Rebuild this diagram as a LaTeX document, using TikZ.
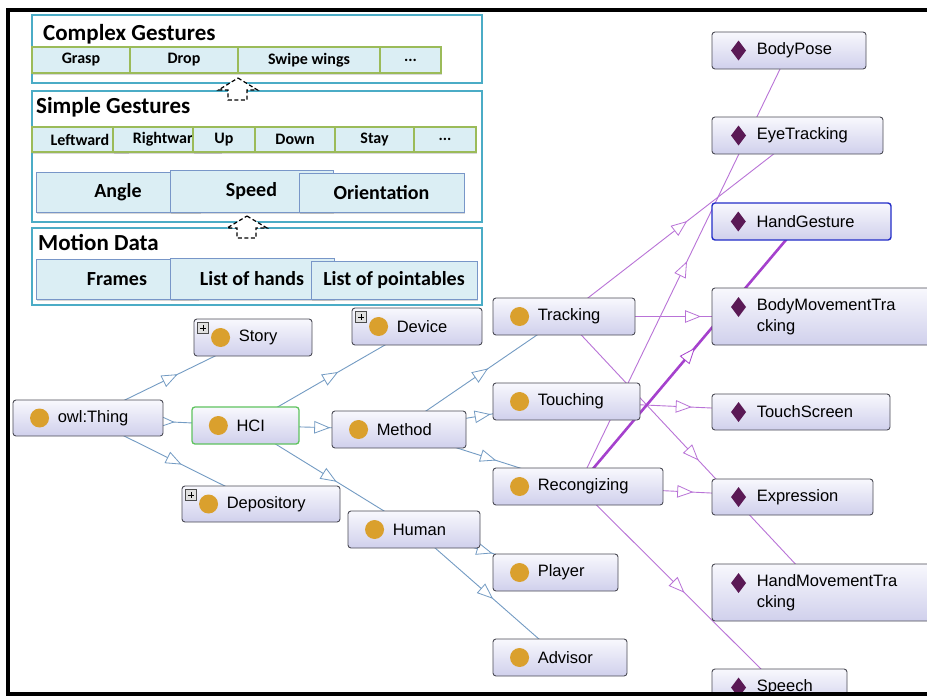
\documentclass[tikz,border=0pt]{standalone}
\usepackage{fontspec}
\setmainfont{Liberation Sans}
\newfontfamily\legendfont{Carlito}
\usetikzlibrary{arrows.meta,decorations.markings,fit,shadows}
\pgfdeclarelayer{paper}
\pgfdeclarelayer{edges}
\pgfsetlayers{paper,edges,main}

\definecolor{panelc}{RGB}{75,172,198}
\definecolor{greenc}{RGB}{155,187,89}
\definecolor{cellc}{RGB}{219,238,244}
\definecolor{cellb}{RGB}{120,150,200}
\definecolor{isac}{RGB}{115,155,195}
\definecolor{relc}{RGB}{185,115,215}
\definecolor{hotc}{RGB}{165,65,205}
\definecolor{dotc}{RGB}{218,160,45}
\definecolor{diamc}{RGB}{90,25,85}
\definecolor{boxtop}{RGB}{248,248,253}
\definecolor{boxbot}{RGB}{208,208,236}
\definecolor{boxline}{RGB}{75,75,85}
\definecolor{hcic}{RGB}{95,195,95}
\definecolor{selc}{RGB}{35,45,200}

\tikzset{
  panel/.style={draw=panelc, line width=2.8pt, fill=white},
  gcell/.style={draw=greenc, line width=1.3pt, fill=cellc, inner sep=0pt,
    drop shadow={shadow xshift=1pt, shadow yshift=-1.5pt, opacity=.3},
    font=\legendfont\bfseries\fontsize{16}{19}\selectfont},
  bcell/.style={draw=cellb, line width=1pt, fill=cellc, inner sep=0pt,
    drop shadow={shadow xshift=1pt, shadow yshift=-1.5pt, opacity=.3},
    font=\legendfont\bfseries\fontsize{20}{24}\selectfont},
  ptitle/.style={anchor=base west, inner sep=0pt,
    font=\legendfont\bfseries\fontsize{23}{27}\selectfont},
  uparrow/.style={draw=black, dash pattern=on 4pt off 2.5pt, line width=1.2pt, fill=white},
  frameline/.style={line width=3.5pt, line join=miter},
  ogbox/.style={draw=boxline, line width=0.9pt, rounded corners=3pt,
    top color=boxtop, bottom color=boxbot, inner sep=0pt},
  ogtext/.style={anchor=west, inner sep=0pt, align=left,
    font=\fontsize{16.5}{21}\selectfont},
  plusbox/.style={draw=black!70, fill=black!12, line width=0.6pt},
  midarrow/.style={postaction={decorate, decoration={markings,
    mark=at position 0.5 with {\pgftransformxshift{8pt}%
      \arrow{Triangle[length=16pt,width=12.5pt,fill=white,line width=0.8pt]}}}}},
  isa/.style={draw=isac, line width=0.9pt, midarrow},
  rel/.style={draw=relc, line width=0.9pt, midarrow},
  hotrel/.style={draw=hotc, line width=2.6pt, midarrow},
}

% labelled cell of the gesture model, given by its corners
\newcommand\gcellbox[7][gcell]{%
  \node[#1, minimum width={(#5-#3)*1pt}, minimum height={(#6-#4)*1pt}]
    (#2) at ({(#3+#5)/2},{(#4+#6)/2}) {#7};}
% class box: dot icon and label
\newcommand\ogclass[4][]{%
  \node[ogbox,#1,fit={#3}] (#2) {};
  \fill[dotc] ([xshift=27pt]#2.west) circle (9.5pt);
  \node[ogtext] (#2-t) at ([xshift=45pt]#2.west) {#4};}
% individual box: diamond icon (raised by #4 pt) and label
\newcommand\ogindiv[5][]{%
  \node[ogbox,#1,fit={#3}] (#2) {};
  \fill[diamc] ([xshift=27pt,yshift=#4pt+10pt]#2.west) -- ++(7.5pt,-10pt)
    -- ++(-7.5pt,-10pt) -- ++(-7.5pt,10pt) -- cycle;
  \node[ogtext] (#2-t) at ([xshift=45pt]#2.west) {#5};}
% small expand marker in the upper left corner
\newcommand\plusmark[1]{%
  \draw[plusbox] ([xshift=4pt,yshift=-4pt]#1.north west) rectangle ++(11,11);
  \draw[line width=1.1pt] ([xshift=6.5pt,yshift=-9.5pt]#1.north west) -- ++(6,0)
    ([xshift=9.5pt,yshift=-6.5pt]#1.north west) -- ++(0,6);}

\begin{document}
\begin{tikzpicture}[x=1pt,y=-1pt]
\begin{pgfonlayer}{paper}
\fill[white] (0,0) rectangle (927,697);
\end{pgfonlayer}
\useasboundingbox (0,0) rectangle (927,697);

\begin{scope}
\clip (8,10) rectangle (935,693);

% ---- layered gesture model ----
\draw[panel] (32,15) rectangle (482,83);
\draw[panel] (32,91) rectangle (482,222);
\draw[panel] (32,228) rectangle (482,305);

\node[ptitle] (cg) at (43,40) {Complex Gestures};
\gcellbox{grasp}{32}{47}{130}{73}{Grasp}
\gcellbox{drop}{130}{47}{238}{73}{Drop}
\gcellbox{swipe}{238}{47}{380}{73}{Swipe wings}
\gcellbox{cmore}{380}{47}{441}{73}{...}

\node[ptitle] (sg) at (36,113) {Simple Gestures};
\gcellbox{leftw}{32}{127}{128}{152}{Leftward}
\gcellbox{rightw}{113}{127}{221}{152}{Rightward}
\gcellbox{up}{193}{127}{255}{152}{Up}
\gcellbox{down}{255}{127}{335}{152}{Down}
\gcellbox{stay}{335}{127}{414}{152}{Stay}
\gcellbox{smore}{414}{127}{476}{152}{...}
\gcellbox[bcell]{angle}{36}{172}{200}{212}{Angle}
\gcellbox[bcell]{speed}{170}{170}{333}{212}{Speed}
\gcellbox[bcell]{orient}{299}{173}{464}{212}{Orientation}

\node[ptitle] (md) at (38,250) {Motion Data};
\gcellbox[bcell]{frames}{36}{259}{198}{299}{Frames}
\gcellbox[bcell]{hands}{170}{258}{334}{299}{List of hands}
\gcellbox[bcell]{points}{311}{261}{477}{299}{List of pointables}

\draw[uparrow] (238,78) -- (257.5,90) -- (247,90) -- (247,100) -- (228,100)
  -- (228,90) -- (218.5,90) -- cycle;
\draw[uparrow] (247,216) -- (267,228) -- (256,228) -- (256,238) -- (237,238)
  -- (237,228) -- (227,228) -- cycle;

% ---- ontology graph ----
\ogclass{thing}{(13,400) (163,436)}{owl:Thing}
\ogclass{story}{(194,319) (312,356)}{Story}
\ogclass{device}{(352,308) (482,345)}{Device}
\ogclass[draw=hcic, line width=1.3pt]{hci}{(192,407) (299,444)}{HCI}
\ogclass{depository}{(182,486) (340,522)}{Depository}
\ogclass{method}{(332,411) (466,448)}{Method}
\ogclass{human}{(348,511) (480,548)}{Human}
\ogclass{tracking}{(493,298) (635,335)}{Tracking}
\ogclass{touching}{(493,383) (640,420)}{Touching}
\ogclass{recongizing}{(493,468) (663,505)}{Recongizing}
\ogclass{player}{(493,554) (618,591)}{Player}
\ogclass{advisor}{(493,639) (627,676)}{Advisor}
\plusmark{story}
\plusmark{device}
\plusmark{depository}

\ogindiv{bodypose}{(712,32) (866,69)}{0}{BodyPose}
\ogindiv{eyetracking}{(712,117) (883,154)}{0}{EyeTracking}
\ogindiv[draw=selc, line width=1.4pt]{handgesture}{(712,203) (891,240)}{0}{HandGesture}
\ogindiv{bmt}{(712,288) (932,345)}{9.5}{BodyMovementTra\\cking}
\ogindiv{touchscreen}{(712,394) (890,430)}{0}{TouchScreen}
\ogindiv{expression}{(712,479) (873,515)}{0}{Expression}
\ogindiv{hmt}{(712,564) (932,621)}{9.5}{HandMovementTra\\cking}
\ogindiv{speech}{(712,669) (847,706)}{0}{Speech}
\end{scope}

% ---- connectors, centre to centre, behind the boxes ----
\begin{pgfonlayer}{edges}
\draw[isa] (thing.center) -- (story.center);
\draw[isa] (thing.center) -- (hci.center);
\draw[isa] (thing.center) -- (depository.center);
\draw[isa] (hci.center) -- (device.center);
\draw[isa] (hci.center) -- (method.center);
\draw[isa] (hci.center) -- (human.center);
\draw[isa] (method.center) -- (tracking.center);
\draw[isa] (method.center) -- (touching.center);
\draw[isa] (method.center) -- (recongizing.center);
\draw[isa] (human.center) -- (player.center);
\draw[isa] (human.center) -- (advisor.center);

\draw[rel] (tracking.center) -- (eyetracking.center);
\draw[rel] (tracking.center) -- (bmt.center);
\draw[rel] (tracking.center) -- (hmt.center);
\draw[rel] (touching.center) -- (touchscreen.center);
\draw[rel] (recongizing.center) -- (bodypose.center);
\draw[rel] (recongizing.center) -- (expression.center);
\draw[rel] (recongizing.center) -- (speech.center);
\draw[hotrel] (recongizing.center) -- (handgesture.center);
\end{pgfonlayer}

% ---- outer frame, open on the right ----
\draw[frameline] (935,10) -- (8,10) -- (8,694) -- (935,694);
\end{tikzpicture}
\end{document}
